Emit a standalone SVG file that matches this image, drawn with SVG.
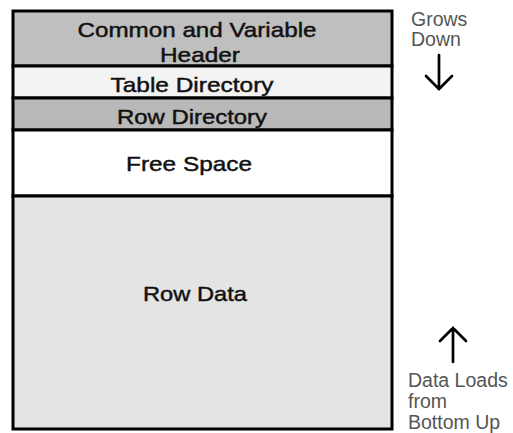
<svg xmlns="http://www.w3.org/2000/svg" width="513" height="433" viewBox="0 0 513 433">
<style>
.lbl{font-family:"Liberation Sans",Arial,sans-serif;font-size:21px;fill:#111;stroke:#111;stroke-width:0.45;}
.side{font-family:"Liberation Sans",Arial,sans-serif;font-size:19.5px;fill:#555;}
.sec{stroke:#000;stroke-width:3;}
.arr{stroke:#000;stroke-width:2.7;fill:none;stroke-linecap:round;stroke-linejoin:miter;}
</style>
<rect width="513" height="433" fill="#fff"/>
<g id="header">
<rect class="sec" x="13" y="11" width="379" height="55" fill="#bfbfbf"/>
<text class="lbl" x="197" y="37" text-anchor="middle" textLength="239" lengthAdjust="spacingAndGlyphs">Common and Variable</text>
<text class="lbl" x="200" y="62" text-anchor="middle" textLength="80" lengthAdjust="spacingAndGlyphs">Header</text>
</g>
<g id="table-directory">
<rect class="sec" x="13" y="66" width="379" height="32" fill="#f3f3f3"/>
<text class="lbl" x="192" y="92" text-anchor="middle" textLength="163" lengthAdjust="spacingAndGlyphs">Table Directory</text>
</g>
<g id="row-directory">
<rect class="sec" x="13" y="98" width="379" height="32" fill="#b9b9b9"/>
<text class="lbl" x="192" y="124" text-anchor="middle" textLength="150" lengthAdjust="spacingAndGlyphs">Row Directory</text>
</g>
<g id="free-space">
<rect class="sec" x="13" y="130" width="379" height="66" fill="#ffffff"/>
<text class="lbl" x="189" y="171" text-anchor="middle" textLength="126" lengthAdjust="spacingAndGlyphs">Free Space</text>
</g>
<g id="row-data">
<rect class="sec" x="13" y="196" width="379" height="233" fill="#e4e4e4"/>
<text class="lbl" x="195" y="301" text-anchor="middle" textLength="104" lengthAdjust="spacingAndGlyphs">Row Data</text>
</g>
<g id="grows-down">
<text class="side" x="411" y="26">Grows</text>
<text class="side" x="411" y="46">Down</text>
</g>
<g id="data-loads">
<text class="side" x="408" y="387">Data Loads</text>
<text class="side" x="408" y="408">from</text>
<text class="side" x="408" y="429">Bottom Up</text>
</g>
<g id="connectors">
<path class="arr" d="M439 55 V89 M426 76 L439 89 L452 76"/>
<path class="arr" d="M453 362 V328 M440 341 L453 328 L466 341"/>
</g>
</svg>
